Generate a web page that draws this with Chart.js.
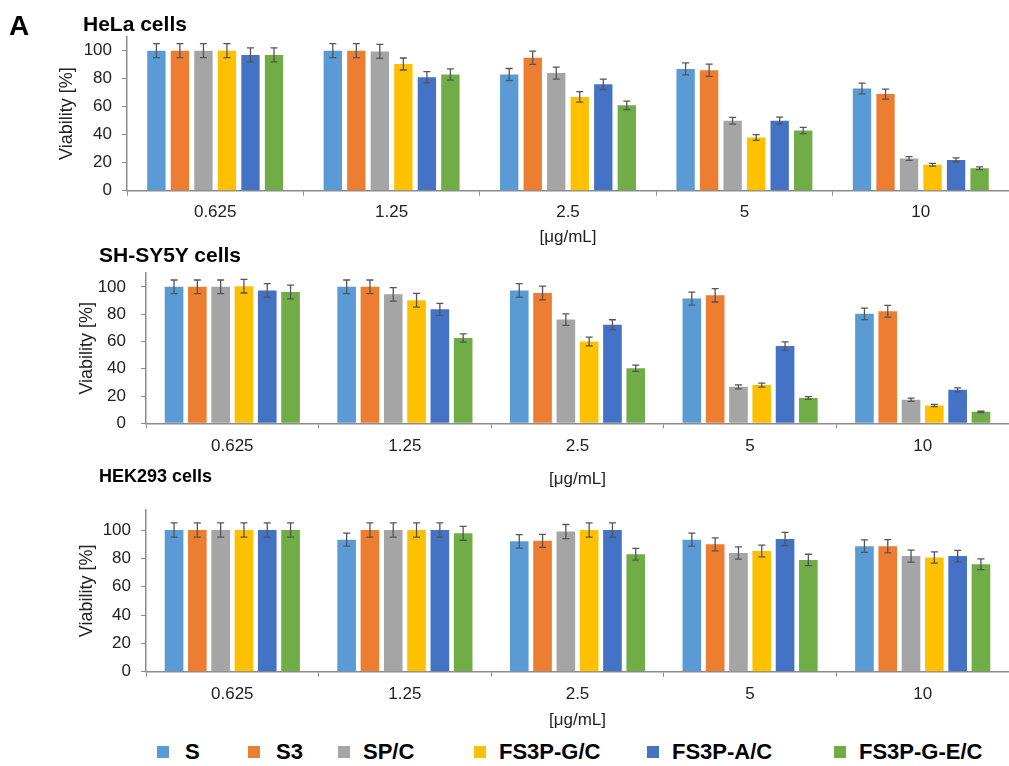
<!DOCTYPE html>
<html>
<head>
<meta charset="utf-8">
<script src="https://cdn.jsdelivr.net/npm/chart.js@4.4.0/dist/chart.umd.min.js"></script>
<style>
  body { margin: 0; background: #fff; width: 1009px; height: 766px; position: relative; overflow: hidden;
         font-family: "Liberation Sans", Arial, sans-serif; }
  canvas { position: absolute; left: 0; }
  .lbl { position: absolute; font-weight: bold; color: #000; white-space: nowrap; z-index: 2; }
  .item { position: absolute; top: 741px; height: 22px; display: flex; align-items: center;
          font-weight: bold; font-size: 22px; line-height: 22px; color: #000; white-space: nowrap; }
  .item span.box { display: inline-block; width: 12px; height: 12px; }
</style>
</head>
<body>
<div class="lbl" style="left:9px; top:12px; font-size:28px; line-height:28px;">A</div>
<div class="lbl" style="left:83px; top:13px; font-size:21px; line-height:21px;">HeLa cells</div>
<div class="lbl" style="left:99px; top:244px; font-size:21px; line-height:21px;">SH-SY5Y cells</div>
<div class="lbl" style="left:99px; top:467px; font-size:18px; line-height:18px;">HEK293 cells</div>

<canvas id="helaChart" width="1009" height="248" style="top:0px"></canvas>
<canvas id="shsyChart" width="1009" height="242" style="top:248px"></canvas>
<canvas id="hekChart" width="1009" height="241" style="top:490px"></canvas>

<div id="legend"></div>

<script>
const concentrations = ['0.625', '1.25', '2.5', '5', '10'];
const yTickValues = [0, 20, 40, 60, 80, 100];
const seriesNames = ['S', 'S3', 'SP/C', 'FS3P-G/C', 'FS3P-A/C', 'FS3P-G-E/C'];
const seriesColors = ['#5B9BD5', '#ED7D31', '#A5A5A5', '#FFC000', '#4472C4', '#70AD47'];

// one row per series, same order as seriesNames
const helaValues = [
    [100, 100, 83, 87, 73],
    [100, 100, 95, 86, 69],
    [100, 99.5, 84, 50, 23],
    [100, 90.5, 67, 38, 18.5],
    [97, 81, 76, 50, 22],
    [97, 83, 61, 43, 16]
];
const helaErrors = [
    [5, 5, 4.3, 4.3, 3.8],
    [5, 5, 4.7, 4.4, 3.6],
    [5, 5, 4.3, 2.4, 1.4],
    [5, 4.3, 3.7, 2, 1],
    [5, 4, 3.7, 2.5, 1.5],
    [5, 4, 3, 2.2, 1]
];

const shsyValues = [
    [100, 100, 97.4, 91.4, 80.2],
    [100, 100, 95.5, 93.8, 82.1],
    [100, 94.5, 76, 26.7, 17.2],
    [100.5, 90.2, 60, 28, 13],
    [97.4, 83.5, 72.3, 56.6, 24.6],
    [96.2, 62.5, 40.3, 18.6, 8.4]
];
const shsyErrors = [
    [5, 5, 5, 4.8, 4.2],
    [5, 5, 5, 4.9, 4.3],
    [5, 5, 4.2, 1.5, 1.2],
    [5, 5, 3.2, 1.5, 0.8],
    [5, 4.4, 3.6, 3.1, 1.4],
    [5, 3, 2.3, 1, 0.5]
];

const hekValues = [
    [100, 93.2, 92, 93.2, 88.6],
    [100, 100, 92.4, 89.9, 88.6],
    [100, 100, 98.9, 83.8, 81.6],
    [100, 100, 100, 85.2, 80.6],
    [100, 100, 100, 93.7, 81.6],
    [100, 97.7, 82.9, 78.9, 75.9]
];
const hekErrors = [
    [5, 4.6, 4.7, 4.6, 4.4],
    [5, 5, 4.6, 4.6, 4.7],
    [5, 5, 5, 4.3, 4.2],
    [5, 5, 5, 4.2, 4],
    [5, 5, 5, 4.6, 4.1],
    [5, 4.9, 4.2, 4, 3.8]
];

Chart.defaults.font.family = '"Liberation Sans", Arial, sans-serif';
Chart.defaults.color = '#222';
const axisColor = '#8c8c8c';

// draws the +/- error whiskers on every bar
const errorBars = {
    id: 'errorBars',
    afterDatasetsDraw(chart) {
        const ctx = chart.ctx;
        const yScale = chart.scales.y;
        ctx.save();
        ctx.strokeStyle = '#555';
        ctx.lineWidth = 1.3;
        chart.data.datasets.forEach((ds, i) => {
            chart.getDatasetMeta(i).data.forEach((bar, j) => {
                const top = yScale.getPixelForValue(ds.data[j] + ds.errors[j]);
                const bot = yScale.getPixelForValue(ds.data[j] - ds.errors[j]);
                ctx.beginPath();
                ctx.moveTo(bar.x, top); ctx.lineTo(bar.x, bot);
                ctx.moveTo(bar.x - 3.5, top); ctx.lineTo(bar.x + 3.5, top);
                ctx.moveTo(bar.x - 3.5, bot); ctx.lineTo(bar.x + 3.5, bot);
                ctx.stroke();
            });
        });
        ctx.restore();
    }
};

function makePanel(id, values, errors, o) {
    const ctx = document.getElementById(id).getContext('2d');
    return new Chart(ctx, {
        type: 'bar',
        data: {
            labels: concentrations,
            datasets: seriesNames.map((name, i) => ({
                label: name,
                data: values[i],
                errors: errors[i],
                backgroundColor: seriesColors[i],
                categoryPercentage: o.catPct,
                barPercentage: o.barPct
            }))
        },
        options: {
            responsive: false,
            animation: false,
            layout: { padding: { left: o.padLeft, top: o.padTop, right: 0, bottom: 0 } },
            plugins: { legend: { display: false }, tooltip: { enabled: false } },
            scales: {
                x: {
                    grid: { offset: true, drawOnChartArea: false, tickLength: 5, color: axisColor },
                    border: { color: axisColor, width: 1.5 },
                    ticks: { padding: o.xTickPad, font: { size: 17 }, maxRotation: 0 },
                    title: { display: true, text: '[μg/mL]', font: { size: 17 }, padding: 0 },
                    afterFit: s => { s.height = o.xHeight; }
                },
                y: {
                    min: 0,
                    max: o.yMax,
                    grid: { drawOnChartArea: false, tickLength: 5, color: axisColor },
                    border: { color: axisColor, width: 1.5 },
                    ticks: { autoSkip: false, padding: o.yTickPad, font: { size: 17 } },
                    afterBuildTicks: s => { s.ticks = yTickValues.map(v => ({ value: v })); },
                    title: { display: true, text: 'Viability [%]', font: { size: 18 }, padding: 0 },
                    afterFit: s => { s.width = o.yWidth; }
                }
            }
        },
        plugins: [errorBars]
    });
}

makePanel('helaChart', helaValues, helaErrors, {
    yMax: 110, padLeft: 56, padTop: 36.7, yWidth: 71, xHeight: 57.3,
    xTickPad: 6, yTickPad: 10, catPct: 0.8, barPct: 0.78
});
makePanel('shsyChart', shsyValues, shsyErrors, {
    yMax: 110, padLeft: 76, padTop: 21.3, yWidth: 70, xHeight: 66.7,
    xTickPad: 8, yTickPad: 15, catPct: 0.81, barPct: 0.8
});
makePanel('hekChart', hekValues, hekErrors, {
    yMax: 114, padLeft: 76, padTop: 0.7, yWidth: 70, xHeight: 59.3,
    xTickPad: 7, yTickPad: 10, catPct: 0.81, barPct: 0.8
});

// legend row along the bottom
const legendX = [157, 248, 338, 474, 647, 834];
const legend = document.getElementById('legend');
seriesNames.forEach((name, i) => {
    const item = document.createElement('div');
    item.className = 'item';
    item.style.left = legendX[i] + 'px';
    item.innerHTML = '<span class="box" style="background:' + seriesColors[i] + '"></span>' +
        '<span style="margin-left:' + (i < 2 ? 16 : 13) + 'px">' + name + '</span>';
    legend.appendChild(item);
});
</script>
</body>
</html>
